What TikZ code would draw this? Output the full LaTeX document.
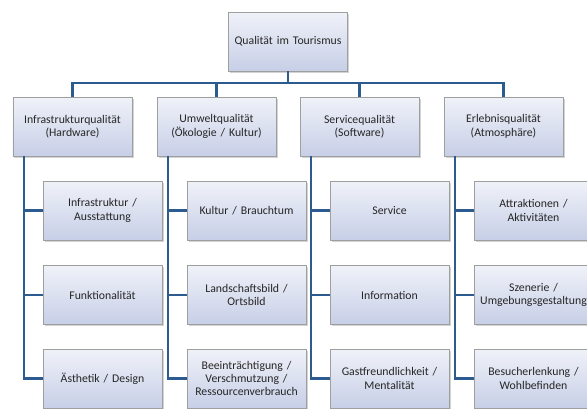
\documentclass[tikz,border=0pt]{standalone}
\usepackage{fontspec}
\setmainfont{Carlito}
\usetikzlibrary{shadows}
\definecolor{boxtop}{HTML}{F0F2F9}
\definecolor{boxbot}{HTML}{C7CFE7}
\definecolor{linkblue}{HTML}{2B5B8F}

\begin{document}
\begin{tikzpicture}[x=1bp, y=-1bp,
    box/.style={draw=gray!75, line width=0.6bp, top color=boxtop, bottom color=boxbot,
        minimum width=119bp, minimum height=59bp, text width=114bp, align=center,
        inner sep=0pt, font=\fontsize{11.8}{13.4}\selectfont, text=black!85,
        drop shadow={shadow xshift=1.5bp, shadow yshift=-1.5bp, opacity=0.35}},
    link/.style={draw=linkblue, line width=2.2bp}]
        \useasboundingbox (0,0) rectangle (587,408);
        \clip (0,0) rectangle (587,408);
        \node[box] (q) at (288,41.5) {Qualität im Tourismus};
        % first level
        \node[box] (inf) at (72.5,126.5) {Infrastrukturqualität\\(Hardware)};
        \node[box] (umw) at (216.5,126.5) {Umweltqualität\\(Ökologie / Kultur)};
        \node[box] (ser) at (359.5,126.5) {Servicequalität\\(Software)};
        \node[box] (erl) at (503.5,126.5) {Erlebnisqualität\\(Atmosphäre)};
        % second level
        \node[box] (inf1) at (102.5,210.5) {Infrastruktur /\\Ausstattung};
        \node[box] (inf2) at (102.5,295) {Funktionalität};
        \node[box] (inf3) at (102.5,378.5) {Ästhetik / Design};
        \node[box] (umw1) at (246.5,210.5) {Kultur / Brauchtum};
        \node[box] (umw2) at (246.5,295) {Landschaftsbild /\\Ortsbild};
        \node[box] (umw3) at (246.5,378.5) {Beeinträchtigung /\\Verschmutzung /\\Ressourcenverbrauch};
        \node[box] (ser1) at (389.5,210.5) {Service};
        \node[box] (ser2) at (389.5,295) {Information};
        \node[box] (ser3) at (389.5,378.5) {Gastfreundlichkeit /\\Mentalität};
        \node[box] (erl1) at (533.5,210.5) {Attraktionen /\\Aktivitäten};
        \node[box] (erl2) at (533.5,295) {Szenerie /\\Umgebungsgestaltung};
        \node[box] (erl3) at (533.5,378.5) {Besucherlenkung /\\Wohlbefinden};
        % connectors to the top
        \coordinate (bar) at (288,83);
        \draw[link] (q.south) -- (bar);
        \draw[link] (inf.north) |- (bar) -| (erl.north);
        \draw[link] (umw.north) -- (umw.north |- bar);
        \draw[link] (ser.north) -- (ser.north |- bar);
        % trunks
        \coordinate (inft) at ([xshift=11bp]inf.south west);
        \coordinate (umwt) at ([xshift=11bp]umw.south west);
        \coordinate (sert) at ([xshift=11bp]ser.south west);
        \coordinate (erlt) at ([xshift=11bp]erl.south west);
        \draw[link] (inft) |- (inf3.west);
        \draw[link] (inft |- inf1.west) -- (inf1.west);
        \draw[link] (inft |- inf2.west) -- (inf2.west);
        \draw[link] (umwt) |- (umw3.west);
        \draw[link] (umwt |- umw1.west) -- (umw1.west);
        \draw[link] (umwt |- umw2.west) -- (umw2.west);
        \draw[link] (sert) |- (ser3.west);
        \draw[link] (sert |- ser1.west) -- (ser1.west);
        \draw[link] (sert |- ser2.west) -- (ser2.west);
        \draw[link] (erlt) |- (erl3.west);
        \draw[link] (erlt |- erl1.west) -- (erl1.west);
        \draw[link] (erlt |- erl2.west) -- (erl2.west);
    \end{tikzpicture}
\end{document}
